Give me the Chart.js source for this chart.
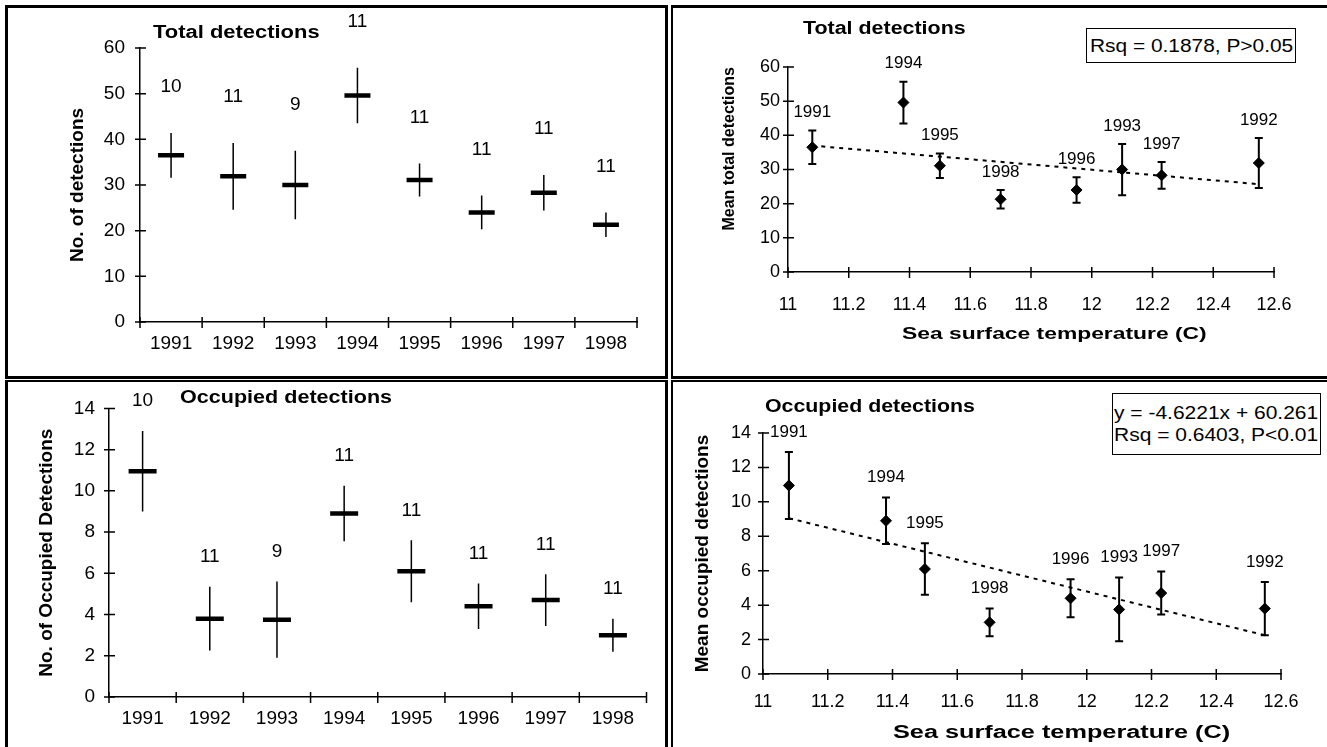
<!DOCTYPE html>
<html>
<head>
<meta charset="UTF-8">
<title>Detections and sea surface temperature</title>
<script src="https://cdn.jsdelivr.net/npm/chart.js@4.4.0/dist/chart.umd.min.js"></script>
<style>
  body { margin: 0; background: #fff; font-family: "Liberation Sans", Arial, sans-serif; }
  #page { position: relative; width: 1327px; height: 747px; overflow: hidden; background: #fff; }
  .panel { position: absolute; box-sizing: border-box; border: 0 solid #000; }
  canvas { position: absolute; }
  .txt { position: absolute; white-space: nowrap; color: #000; line-height: 1; transform-origin: 0 50%; }
  .b { font-weight: bold; }
  .box { position: absolute; box-sizing: border-box; border: 1px solid #000; background: #fff; }
</style>
</head>
<body>
<div id="page">
  <div class="panel" style="left:5px;top:5px;width:663px;height:374px;border-width:3px;"></div>
  <div class="panel" style="left:671px;top:5px;width:700px;height:374px;border-width:3px 0 3px 2px;"></div>
  <div class="panel" style="left:5px;top:380px;width:663px;height:400px;border-width:2px 3px 0 3px;"></div>
  <div class="panel" style="left:671px;top:380px;width:700px;height:400px;border-width:2px 0 0 2px;"></div>

  <canvas id="tl" width="657" height="368" style="left:8px;top:8px;"></canvas>
  <canvas id="tr" width="653" height="368" style="left:674px;top:8px;"></canvas>
  <canvas id="bl" width="657" height="364" style="left:8px;top:383px;"></canvas>
  <canvas id="br" width="653" height="364" style="left:674px;top:383px;"></canvas>

  <div class="txt b" style="left:153px;top:32px;font-size:18px;" data-w="167">Total detections</div>
  <div class="txt b" style="left:803px;top:28px;font-size:18px;" data-w="163">Total detections</div>
  <div class="txt b" style="left:180px;top:397px;font-size:18px;" data-w="212">Occupied detections</div>
  <div class="txt b" style="left:765px;top:405px;font-size:19px;" data-w="210">Occupied detections</div>

  <div class="txt b" style="left:902px;top:333px;font-size:17px;" data-w="305">Sea surface temperature (C)</div>
  <div class="txt b" style="left:893px;top:732px;font-size:18px;" data-w="337">Sea surface temperature (C)</div>

  <div class="box" style="left:1086px;top:28px;width:210px;height:35px;"></div>
  <div class="txt" style="left:1090px;top:46px;font-size:18px;" data-w="203">Rsq = 0.1878, P&gt;0.05</div>
  <div class="box" style="left:1112px;top:393px;width:209px;height:62px;"></div>
  <div class="txt" style="left:1114px;top:413px;font-size:18px;" data-w="204">y = -4.6221x + 60.261</div>
  <div class="txt" style="left:1114px;top:435px;font-size:18px;" data-w="204">Rsq = 0.6403, P&lt;0.01</div>
</div>

<script>
  // values
  var years = ['1991', '1992', '1993', '1994', '1995', '1996', '1997', '1998'];
  var sampleSize = [10, 11, 9, 11, 11, 11, 11, 11];
  var totalMean = [36.5, 31.9, 30.0, 49.6, 31.1, 24.0, 28.3, 21.3];
  var totalSE = [4.9, 7.3, 7.5, 6.1, 3.6, 3.7, 3.9, 2.7];
  var occMean = [10.95, 3.8, 3.75, 8.9, 6.1, 4.4, 4.7, 3.0];
  var occSE = [1.95, 1.55, 1.85, 1.35, 1.5, 1.1, 1.25, 0.8];
  var sst = [11.08, 12.55, 12.10, 11.38, 11.50, 11.95, 12.23, 11.70];
  var trendX = [11.08, 12.55];
  var totalTrendY = [37.0, 25.7];
  var occTrendY = [9.05, 2.25];
  var totalTicks = [0, 10, 20, 30, 40, 50, 60];
  var occTicks = [0, 2, 4, 6, 8, 10, 12, 14];
  var sstTicks = [11, 11.2, 11.4, 11.6, 11.8, 12, 12.2, 12.4, 12.6];

  var FAMILY = '"Liberation Sans", Arial, sans-serif';
  Chart.defaults.font.family = FAMILY;
  Chart.defaults.color = '#000';

  // crossing tick marks, error bars and the little labels above them
  var marks = {
    id: 'marks',
    afterDatasetsDraw: function(chart, args, o) {
      var ctx = chart.ctx, x = chart.scales.x, y = chart.scales.y;
      var area = chart.chartArea;
      var pts = chart.getDatasetMeta(0).data;
      ctx.save();
      ctx.strokeStyle = '#000';
      ctx.fillStyle = '#000';
      ctx.lineWidth = 1.5;
      ctx.beginPath();
      y.ticks.forEach(function(t) {
        var py = y.getPixelForValue(t.value);
        ctx.moveTo(area.left - 5, py); ctx.lineTo(area.left + 6, py);
      });
      if (x.type === 'category') {
        var step = x.getPixelForValue(1) - x.getPixelForValue(0);
        for (var i = 0; i <= x.ticks.length; i++) {
          var px = x.getPixelForValue(0) - step / 2 + i * step;
          ctx.moveTo(px, area.bottom - 5); ctx.lineTo(px, area.bottom + 6);
        }
      } else {
        x.ticks.forEach(function(t) {
          var px = x.getPixelForValue(t.value);
          ctx.moveTo(px, area.bottom - 5); ctx.lineTo(px, area.bottom + 6);
        });
      }
      ctx.stroke();

      ctx.lineWidth = o.lineWidth;
      ctx.beginPath();
      var tops = [];
      pts.forEach(function(p, i) {
        var top = y.getPixelForValue(o.mean[i] + o.se[i]);
        var bot = y.getPixelForValue(o.mean[i] - o.se[i]);
        tops.push(top);
        ctx.moveTo(p.x, top); ctx.lineTo(p.x, bot);
        if (o.cap) {
          ctx.moveTo(p.x - o.cap, top); ctx.lineTo(p.x + o.cap, top);
          ctx.moveTo(p.x - o.cap, bot); ctx.lineTo(p.x + o.cap, bot);
        }
      });
      ctx.stroke();

      ctx.font = o.font;
      ctx.textAlign = 'center';
      ctx.textBaseline = 'middle';
      pts.forEach(function(p, i) {
        ctx.fillText(String(o.labels[i]), p.x, tops[i] - o.gap);
      });
      ctx.restore();
    }
  };

  function yScale(ticks, title, g) {
    return {
      type: 'linear',
      min: ticks[0],
      max: ticks[ticks.length - 1],
      afterBuildTicks: function(s) { s.ticks = ticks.map(function(v) { return {value: v}; }); },
      grid: {display: false, drawTicks: false},
      border: {display: true, color: '#000', width: 1.5},
      ticks: {color: '#000', font: {size: g.tickSize}, padding: g.yPad},
      title: {display: true, text: title, color: '#000', align: g.titleAlign || 'center',
              font: {size: g.titleSize, weight: 'bold'}, padding: {top: 4, bottom: 4}},
      afterFit: function(s) { s.width = g.yWidth; }
    };
  }

  function leftChart(id, mean, se, ticks, title, g) {
    return new Chart(document.getElementById(id), {
      type: 'line',
      data: {
        labels: years,
        datasets: [{
          data: mean,
          showLine: false,
          pointStyle: 'line',
          pointRadius: g.barHalf,
          pointHoverRadius: g.barHalf,
          pointBorderWidth: 4.5,
          pointBorderColor: '#000',
          pointBackgroundColor: '#000'
        }]
      },
      options: {
        responsive: false,
        animation: false,
        events: [],
        layout: {padding: g.padding},
        plugins: {
          legend: {display: false},
          tooltip: {enabled: false},
          marks: {mean: mean, se: se, labels: sampleSize, lineWidth: 1.5, cap: 0,
                  gap: g.gap, font: '19px ' + FAMILY}
        },
        scales: {
          x: {
            type: 'category',
            offset: true,
            grid: {display: false, drawTicks: false},
            border: {display: true, color: '#000', width: 1.5},
            ticks: {color: '#000', font: {size: g.tickSize}, padding: g.xPad, autoSkip: false, maxRotation: 0},
            afterFit: function(s) { s.height = g.xHeight; }
          },
          y: yScale(ticks, title, g)
        }
      },
      plugins: [marks]
    });
  }

  function rightChart(id, mean, se, ticks, trendY, title, g) {
    var pts = sst.map(function(v, i) { return {x: v, y: mean[i]}; });
    var trend = trendX.map(function(v, i) { return {x: v, y: trendY[i]}; });
    return new Chart(document.getElementById(id), {
      type: 'scatter',
      data: {
        datasets: [{
          data: pts,
          pointStyle: 'rectRot',
          pointRadius: 5.5,
          pointHoverRadius: 5.5,
          backgroundColor: '#000',
          borderColor: '#000',
          borderWidth: 1
        }, {
          data: trend,
          showLine: true,
          pointRadius: 0,
          borderColor: '#000',
          borderWidth: 2,
          borderDash: [4, 5]
        }]
      },
      options: {
        responsive: false,
        animation: false,
        events: [],
        layout: {padding: g.padding},
        plugins: {
          legend: {display: false},
          tooltip: {enabled: false},
          marks: {mean: mean, se: se, labels: years, lineWidth: 2, cap: 4,
                  gap: g.gap, font: '17px ' + FAMILY}
        },
        scales: {
          x: {
            type: 'linear',
            min: sstTicks[0],
            max: sstTicks[sstTicks.length - 1],
            afterBuildTicks: function(s) { s.ticks = sstTicks.map(function(v) { return {value: v}; }); },
            grid: {display: false, drawTicks: false},
            border: {display: true, color: '#000', width: 1.5},
            ticks: {color: '#000', font: {size: g.tickSize}, padding: g.xPad, autoSkip: false,
                    maxRotation: 0, callback: function(v) { return String(v); }},
            afterFit: function(s) { s.height = g.xHeight; }
          },
          y: yScale(ticks, title, g)
        }
      },
      plugins: [marks]
    });
  }

  leftChart('tl', totalMean, totalSE, totalTicks, 'No. of detections', {
    padding: {left: 54.6, right: 28, top: 40, bottom: 0},
    yWidth: 77.4, xHeight: 54, xPad: 10, yPad: 15, tickSize: 19, titleSize: 19,
    barHalf: 13, gap: 46
  });
  leftChart('bl', occMean, occSE, occTicks, 'No. of Occupied Detections', {
    padding: {left: 23.6, right: 8, top: 20, bottom: 0},
    yWidth: 77.4, xHeight: 50, xPad: 10, yPad: 14, tickSize: 19, titleSize: 19,
    barHalf: 14, gap: 30
  });
  rightChart('tr', totalMean, totalSE, totalTicks, totalTrendY, 'Mean total detections', {
    padding: {left: 42.4, right: 53, top: 59, bottom: 0},
    yWidth: 71.6, xHeight: 104, xPad: 22, yPad: 8, tickSize: 18, titleSize: 16,
    titleAlign: 'end', gap: 18
  });
  rightChart('br', occMean, occSE, occTicks, occTrendY, 'Mean occupied detections', {
    padding: {left: 13.6, right: 46, top: 50, bottom: 0},
    yWidth: 75.4, xHeight: 73, xPad: 17, yPad: 12, tickSize: 18, titleSize: 19,
    gap: 20
  });

  // stretch the html texts to the widths they take in the figure
  document.querySelectorAll('.txt').forEach(function(el) {
    var w = +el.dataset.w;
    el.style.transform = 'translateY(-50%) scaleX(' + (w / el.offsetWidth) + ')';
  });
</script>
</body>
</html>
